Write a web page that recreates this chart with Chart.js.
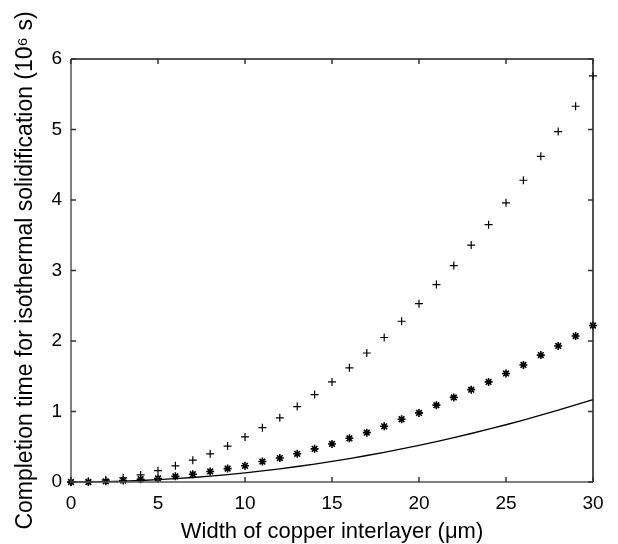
<!DOCTYPE html>
<html>
<head>
<meta charset="utf-8">
<script src="https://cdn.jsdelivr.net/npm/chart.js@4/dist/chart.umd.min.js"></script>
<style>
html,body{margin:0;padding:0;background:#fff;}
#wrap{width:618px;height:544px;}
</style>
</head>
<body>
<div id="wrap"><canvas id="c" width="618" height="544"></canvas></div>
<script>
const widths = [0,1,2,3,4,5,6,7,8,9,10,11,12,13,14,15,16,17,18,19,20,21,22,23,24,25,26,27,28,29,30];
const plusSeries = [0,0.01,0.03,0.06,0.10,0.16,0.23,0.31,0.40,0.51,0.64,0.77,0.91,1.07,1.24,1.42,1.62,1.83,2.05,2.28,2.53,2.80,3.07,3.36,3.65,3.96,4.28,4.62,4.97,5.33,5.76];
const starSeries = [0,0.00,0.01,0.02,0.04,0.05,0.08,0.11,0.15,0.19,0.23,0.29,0.34,0.40,0.47,0.54,0.62,0.70,0.79,0.89,0.98,1.09,1.20,1.31,1.42,1.54,1.66,1.80,1.93,2.07,2.22];
const lineSeries = [0,0.001,0.005,0.012,0.021,0.033,0.047,0.064,0.083,0.105,0.13,0.157,0.187,0.22,0.255,0.293,0.333,0.376,0.421,0.47,0.52,0.573,0.63,0.688,0.749,0.812,0.879,0.948,1.02,1.093,1.17];
const xTicks = [0,5,10,15,20,25,30];
const yTicks = [0,1,2,3,4,5,6];

const toPts = (ys) => widths.map((x,i)=>({x:x,y:ys[i]}));
const FONT = '"Liberation Sans", Arial, Helvetica, sans-serif';

const frame = {
  id:'frame',
  afterDraw(chart){
    const ctx = chart.ctx, a = chart.chartArea;
    const xs = chart.scales.x, ys = chart.scales.y;
    ctx.save();
    ctx.lineWidth = 1.5;
    ctx.strokeStyle = '#555';
    ctx.beginPath();
    ctx.moveTo(a.left, a.top); ctx.lineTo(a.left, a.bottom); ctx.lineTo(a.right, a.bottom);
    ctx.stroke();
    ctx.strokeStyle = '#1a1a1a';
    ctx.beginPath();
    ctx.moveTo(a.left, a.top); ctx.lineTo(a.right, a.top); ctx.lineTo(a.right, a.bottom);
    ctx.stroke();
    const L = 5;
    ctx.strokeStyle = '#333';
    ctx.beginPath();
    xTicks.forEach(v=>{
      const px = xs.getPixelForValue(v);
      ctx.moveTo(px, a.bottom); ctx.lineTo(px, a.bottom-L);
      ctx.moveTo(px, a.top); ctx.lineTo(px, a.top+L);
    });
    yTicks.forEach(v=>{
      const py = ys.getPixelForValue(v);
      ctx.moveTo(a.left, py); ctx.lineTo(a.left+L, py);
      ctx.moveTo(a.right, py); ctx.lineTo(a.right-L, py);
    });
    ctx.stroke();
    ctx.restore();
  }
};

new Chart(document.getElementById('c'), {
  type:'scatter',
  data:{
    datasets:[
      {data:toPts(lineSeries), showLine:true, borderColor:'#000', borderWidth:1.3, pointRadius:0, tension:0, fill:false},
      {data:toPts(starSeries), pointStyle:'star', pointRadius:4, borderColor:'#000', backgroundColor:'#000', pointBorderWidth:1.6, showLine:false},
      {data:toPts(plusSeries), pointStyle:'cross', pointRadius:4, borderColor:'#000', pointBorderWidth:1.2, showLine:false}
    ]
  },
  plugins:[frame],
  options:{
    responsive:false,
    animation:false,
    clip:false,
    layout:{padding:{left:0, right:25, top:59, bottom:0}},
    plugins:{legend:{display:false}, tooltip:{enabled:false}},
    scales:{
      x:{
        type:'linear', min:0, max:30,
        afterFit(s){ s.height = 62; },
        afterBuildTicks(s){ s.ticks = xTicks.map(v=>({value:v})); },
        grid:{display:false, drawTicks:false},
        border:{display:false},
        ticks:{color:'#000', padding:10, font:{family:FONT, size:19}, maxRotation:0},
        title:{display:true, text:'Width of copper interlayer (\u03bcm)', color:'#000', font:{family:FONT, size:22, lineHeight:1}, padding:{top:0,bottom:1}}
      },
      y:{
        type:'linear', min:0, max:6,
        afterFit(s){ s.width = 71; },
        afterBuildTicks(s){ s.ticks = yTicks.map(v=>({value:v})); },
        grid:{display:false, drawTicks:false},
        border:{display:false},
        ticks:{color:'#000', padding:9, font:{family:FONT, size:19}},
        title:{display:true, text:'Completion time for isothermal solidification (10\u2076 s)', color:'#000', font:{family:FONT, size:23}, padding:{top:12,bottom:0}}
      }
    }
  }
});
</script>
</body>
</html>
